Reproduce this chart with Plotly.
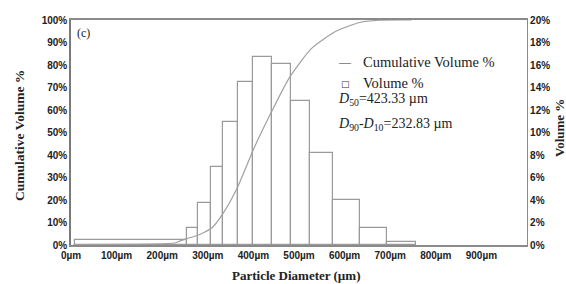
import plotly.graph_objects as go

# ---- data ----
bin_edges = [8, 254, 278, 308, 333, 366, 400, 441, 482, 525, 574, 633, 693, 757]
volume_pct = [0.45, 1.47, 3.69, 6.89, 10.9, 14.5, 16.7, 16.1, 12.8, 8.2, 4.04, 1.47, 0.31]

cum_x = [5, 120, 228, 238, 254, 282, 310, 332, 365, 402, 440, 479, 527, 580, 633, 677, 747]
cum_y = [0.2, 0.3, 0.9, 1.7, 2.8, 4.7, 7.8, 13.6, 25.6, 43.3, 59.3, 74.4, 87.3, 94.9, 98.9, 99.9, 100]

x_ticks = [0, 100, 200, 300, 400, 500, 600, 700, 800, 900]
x_tick_labels = ["0µm", "100µm", "200µm", "300µm", "400µm", "500µm", "600µm", "700µm", "800µm", "900µm"]

bar_left = bin_edges[:-1]
bar_width = [b - a for a, b in zip(bin_edges[:-1], bin_edges[1:])]

W, H = 566, 284
L, R, T, B = 71, 39, 19.5, 38.5
pw, ph = W - L - R, H - T - B

def px(x):
    return (x - L) / pw

def py(y):
    return (H - B - y) / ph

fig = go.Figure()
# bars on the right-hand axis (y), cumulative line on the left-hand axis (y2, drawn on top)
fig.add_trace(go.Bar(
    x=bar_left, y=volume_pct, width=bar_width, offset=0,
    marker=dict(color="white", line=dict(color="#9a9a9a", width=1.2)),
    yaxis="y", showlegend=False, hoverinfo="skip",
))
fig.add_trace(go.Scatter(
    x=cum_x, y=cum_y, mode="lines", line=dict(color="#a0a0a0", width=1.2, shape="spline", smoothing=0.6),
    yaxis="y2", showlegend=False, hoverinfo="skip",
))

tickfont = dict(family="Liberation Sans", size=10, color="#222222", weight="bold")
fig.update_layout(
    width=W, height=H,
    margin=dict(l=L, r=R, t=T, b=B, autoexpand=False),
    plot_bgcolor="white", paper_bgcolor="white",
    bargap=0,
    xaxis=dict(range=[0, 1000], tickvals=x_ticks, ticktext=x_tick_labels, showgrid=False,
               zeroline=False, showline=True, linecolor="#8a8a8a", linewidth=1.5, mirror=True,
               ticks="", tickfont=tickfont),
    yaxis=dict(range=[0, 20], dtick=2, ticksuffix="%", side="right",
               showgrid=False, zeroline=False, showline=True, linecolor="#8a8a8a", linewidth=1.2,
               ticks="", tickfont=tickfont),
    yaxis2=dict(range=[0, 100], dtick=10, ticksuffix="%", side="left", overlaying="y",
                showgrid=False, zeroline=False, showline=True, linecolor="#7a7a7a", linewidth=1.5,
                ticks="", tickfont=tickfont),
)

serif = "Liberation Serif"
ann = [
    dict(text="(c)", x=px(75), y=py(33), xanchor="left", yanchor="middle", font=dict(family=serif, size=12, color="#222")),
    dict(text="—", x=px(336), y=py(62), xanchor="left", yanchor="middle", font=dict(family=serif, size=12, color="#333")),
    dict(text="Cumulative Volume %", x=px(361), y=py(62), xanchor="left", yanchor="middle", font=dict(family=serif, size=14.5, color="#222")),
    dict(text="□", x=px(339), y=py(84), xanchor="left", yanchor="middle", font=dict(family="DejaVu Sans", size=9, color="#333")),
    dict(text="Volume %", x=px(361), y=py(83), xanchor="left", yanchor="middle", font=dict(family=serif, size=14.5, color="#222")),
    dict(text="<i>D</i><sub>50</sub>=423.33 µm", x=px(336), y=py(99), xanchor="left", yanchor="middle", font=dict(family=serif, size=14, color="#222")),
    dict(text="<i>D</i><sub>90</sub>-<i>D</i><sub>10</sub>=232.83 µm", x=px(336), y=py(124), xanchor="left", yanchor="middle", font=dict(family=serif, size=14, color="#222")),
    dict(text="<b>Cumulative Volume %</b>", x=px(20), y=py(136), xanchor="center", yanchor="middle", textangle=-90, font=dict(family=serif, size=13.5, color="#222")),
    dict(text="<b>Volume %</b>", x=px(559), y=py(128), xanchor="center", yanchor="middle", textangle=-90, font=dict(family=serif, size=13, color="#222")),
    dict(text="<b>Particle Diameter (µm)</b>", x=px(296), y=py(276), xanchor="center", yanchor="middle", font=dict(family=serif, size=13, color="#222")),
]
for a in ann:
    a.update(xref="paper", yref="paper", showarrow=False)
fig.update_layout(annotations=ann)

fig.write_html("out.html", post_script="document.body.style.margin='0px';",
               config={"displayModeBar": False})
